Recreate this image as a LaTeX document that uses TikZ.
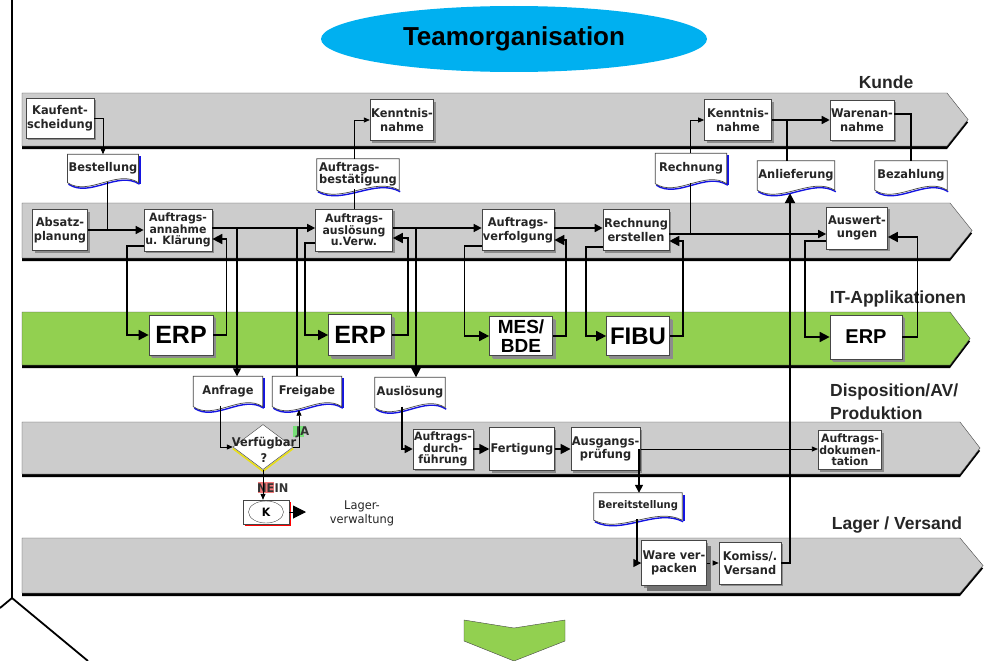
\documentclass[tikz,border=0pt]{standalone}
\usepackage{fontspec}
\setmainfont{Liberation Sans}
\newfontfamily\boxfont[FakeStretch=0.95]{DejaVu Sans}
\usepackage{tikz}
\usetikzlibrary{shapes.geometric,arrows.meta,positioning,backgrounds,calc,shadows}
\definecolor{laneGray}{RGB}{204,204,204}
\definecolor{laneGreen}{RGB}{146,208,80}
\definecolor{titleBlue}{RGB}{0,176,240}
\definecolor{docBlue}{RGB}{20,20,225}
\definecolor{lineGray}{RGB}{70,70,70}
\definecolor{jaGreen}{RGB}{120,225,120}
\definecolor{neinRed}{RGB}{240,120,120}

% swim lane with arrow point: top, bottom, corner x, tip x, fill
\newcommand{\lane}[5]{%
  \fill[black] (22,#1+3) -- (#3,#1+3) -- (#4,{(#1+#2)/2+3}) -- (#3,#2+3) -- (22,#2+3) -- cycle;
  \draw[lineGray, fill=#5] (22,#1) -- (#3,#1) -- (#4,{(#1+#2)/2}) -- (#3,#2) -- (22,#2) -- cycle;
}
% document outline with wavy bottom behind a node, [1] = blue right edge
\newcommand{\docshape}[2][0]{%
  \begin{pgfonlayer}{background}
    \draw[docBlue, line width=1.4pt]
      ($(#2.south west)+(1,2.5)$) .. controls ($(#2.south west)!0.3!(#2.south east)+(1,16.5)$)
      and ($(#2.south west)!0.7!(#2.south east)+(1,-11.5)$) .. ($(#2.south east)+(1,2.5)$);
    \ifnum#1=1
      \draw[docBlue, line width=2pt] ($(#2.north east)+(1.5,2)$) -- ($(#2.south east)+(1.5,2)$);
    \fi
    \draw[lineGray, fill=white, line width=0.7pt]
      (#2.north west) -- (#2.north east) -- ($(#2.south east)+(0,1)$)
      .. controls ($(#2.south west)!0.7!(#2.south east)+(0,-13)$)
      and ($(#2.south west)!0.3!(#2.south east)+(0,15)$) .. ($(#2.south west)+(0,1)$) -- cycle;
  \end{pgfonlayer}}

\begin{document}
\begin{tikzpicture}[x=1pt, y=-1pt,
  box/.style={draw=lineGray, fill=white, line width=0.7pt, inner sep=1pt, align=center, text=black!85,
    font=\boxfont\bfseries\fontsize{12}{13.5}\selectfont,
    drop shadow={shadow xshift=2pt, shadow yshift=-2pt, fill=black!45, opacity=1}},
  three/.style={font=\boxfont\bfseries\fontsize{11.5}{11.5}\selectfont},
  app/.style={box, font=\bfseries\fontsize{25}{28}\selectfont, text=black,
    drop shadow={shadow xshift=3pt, shadow yshift=-3pt, fill=black!45, opacity=1}},
  doc/.style={inner sep=1pt, align=center, text=black!85, font=\boxfont\bfseries\fontsize{12}{12.5}\selectfont},
  lanelabel/.style={inner sep=0pt, text=black!85, font=\bfseries\fontsize{17.5}{23}\selectfont},
  tag/.style={inner sep=0pt, anchor=west, text=black!80, font=\boxfont\bfseries\fontsize{12}{12}\selectfont},
  flow/.style={line width=1.5pt, -{Triangle[length=8pt,width=8pt]}},
  flowbig/.style={line width=1.7pt, -{Triangle[length=10pt,width=10pt]}},
  flowthin/.style={line width=0.8pt, -{Triangle[length=6pt,width=5pt]}},
  link/.style={line width=1.5pt},
  linkthin/.style={line width=0.8pt}
]
\useasboundingbox (0,0) rectangle (985,661);

% lanes
\begin{scope}[on background layer]
  \fill[white] (0,0) rectangle (985,661);
  \lane{93}{146}{947}{968}{laneGray}
  \lane{203}{258}{950}{972}{laneGray}
  \lane{312}{365}{950}{970}{laneGreen}
  \lane{422}{474}{960}{980}{laneGray}
  \lane{538}{593}{960}{983}{laneGray}
\end{scope}

\draw[line width=1.8pt] (12,0) -- (12,598) -- (88,661);
\draw[line width=1.8pt] (12,598) -- (0,608);
\draw[lineGray, fill=laneGreen] (464,620) -- (514,628) -- (565,620) -- (565,641) -- (514,661) -- (464,641) -- cycle;

\node[ellipse, fill=titleBlue, minimum width=386, minimum height=66, font=\bfseries\fontsize{26}{30}\selectfont] (title) at (514,39) {Teamorganisation};

\node[lanelabel] (kunde) at (886,82) {Kunde};
\node[lanelabel] (itapp) at (898,299) {IT-Applikationen};
\node[lanelabel, align=left, anchor=west] (dispo) at (830,402) {Disposition/AV/\\Produktion};
\node[lanelabel] (lager) at (897,525) {Lager / Versand};

% Kunde
\node[box, minimum width=67, minimum height=40] (kauf) at (60,118) {Kaufent-\\scheidung};
\node[box, minimum width=63, minimum height=41] (kennt1) at (402,120) {Kenntnis-\\nahme};
\node[box, minimum width=67, minimum height=41] (kennt2) at (738,120) {Kenntnis-\\nahme};
\node[box, minimum width=59, minimum height=40] (waren) at (862,120) {Warenan-\\nahme};

\node[doc, minimum width=70, minimum height=27] (best) at (103,168) {Bestellung};
\node[doc, minimum width=82, minimum height=30, align=left] (bestaet) at (358,174) {Auftrags-\\bestätigung};
\node[doc, minimum width=71, minimum height=29] (rechn) at (691,168) {Rechnung};
\node[doc, minimum width=77, minimum height=28] (anlief) at (796,175) {Anlieferung};
\node[doc, minimum width=72, minimum height=28] (bezahl) at (911,175) {Bezahlung};
\docshape[1]{best}
\docshape{bestaet}
\docshape[1]{rechn}
\docshape{anlief}
\docshape{bezahl}

% Auftragsabwicklung
\node[box, minimum width=55, minimum height=41] (absatz) at (60,230) {Absatz-\\planung};
\node[box, three, minimum width=68, minimum height=42] (annahme) at (178,230) {Auftrags-\\annahme\\u. Klärung};
\node[box, three, minimum width=77, minimum height=42] (ausloes) at (354,230) {Auftrags-\\auslösung\\u.Verw.};
\node[box, minimum width=69, minimum height=41] (verfolg) at (518,230) {Auftrags-\\verfolgung};
\node[box, minimum width=63, minimum height=41] (rerst) at (636,230) {Rechnung\\erstellen};
\node[box, minimum width=61, minimum height=42] (auswert) at (857,228) {Auswert-\\ungen};

% IT-Applikationen
\node[app, minimum width=64, minimum height=40] (erpA) at (181,335) {ERP};
\node[app, minimum width=63, minimum height=41] (erpB) at (360,335) {ERP};
\node[app, minimum width=63, minimum height=39, font=\bfseries\fontsize{19}{19}\selectfont] (mes) at (521,336) {MES/\\BDE};
\node[app, minimum width=63, minimum height=39, font=\bfseries\fontsize{24}{28}\selectfont] (fibu) at (638,336) {FIBU};
\node[app, minimum width=72, minimum height=44, font=\bfseries\fontsize{20}{24}\selectfont] (erpC) at (866,337) {ERP};

\node[doc, minimum width=69, minimum height=29] (anfrage) at (228,391) {Anfrage};
\node[doc, minimum width=69, minimum height=29] (freigabe) at (307,391) {Freigabe};
\node[doc, minimum width=70, minimum height=29] (ausl) at (410,392) {Auslösung};
\node[doc, minimum width=88, minimum height=26, font=\boxfont\bfseries\fontsize{10.5}{12}\selectfont] (bereit) at (638,506) {Bereitstellung};
\docshape[1]{anfrage}
\docshape[1]{freigabe}
\docshape{ausl}
\docshape[1]{bereit}

% Disposition / Produktion
\node[diamond, draw=lineGray, fill=white, minimum width=60, minimum height=45, inner sep=0pt] (verfueg) at (263,447) {};
\begin{pgfonlayer}{background}
  \draw[yellow!90!black, line width=1.6pt] ([yshift=-1.5pt]verfueg.west) -- ([yshift=-1.5pt]verfueg.south) -- ([yshift=-1.5pt]verfueg.east);
\end{pgfonlayer}
\node[align=center, text=black!85, font=\boxfont\bfseries\fontsize{12}{16}\selectfont] (verfTxt) at (264,450) {Verfügbar\\?};
\node[box, three, minimum width=55, minimum height=40] (durchf) at (443,449) {Auftrags-\\durch-\\führung};
\node[box, minimum width=63, minimum height=43, right=16pt of durchf] (fertig) {Fertigung};
\node[box, minimum width=62, minimum height=43, right=16pt of fertig] (ausgang) {Ausgangs-\\prüfung};
\node[box, three, minimum width=61, minimum height=39] (doku) at (850,450) {Auftrags-\\dokumen-\\tation};

\node[fill=jaGreen, minimum width=11, minimum height=11, inner sep=0pt] (jaMark) at (298,431) {};
\node[tag] (ja) at (296,432) {JA};
\node[fill=neinRed, minimum width=16, minimum height=11, inner sep=0pt] (neinMark) at (266,487) {};
\node[tag] (nein) at (257,488) {NEIN};

\node[draw=lineGray, fill=white, minimum width=46, minimum height=24, inner sep=0pt,
  drop shadow={shadow xshift=1.5pt, shadow yshift=-1.5pt, fill=red, opacity=1}] (kbox) at (266,512) {};
\node[draw=lineGray, ellipse, minimum width=35, minimum height=22, inner sep=0pt,
  font=\boxfont\bfseries\fontsize{11.5}{12}\selectfont] (kcirc) at (266,512) {K};
\coordinate (kout) at (306,512);
\node[align=center, text=black!85, font=\boxfont\fontsize{12}{14}\selectfont] (lagerv) at (362,513) {Lager-\\verwaltung};

% Lager / Versand
\node[box, minimum width=61, minimum height=45,
  drop shadow={shadow xshift=5pt, shadow yshift=-5pt, fill=black!55, opacity=1}] (verpack) at (674,563) {Ware ver-\\packen};
\node[box, minimum width=62, minimum height=42, right=12pt of verpack] (versand) {Komiss/.\\Versand};

% branch points
\coordinate (jBest) at (107,230);
\coordinate (jAnf) at (237,228);
\coordinate (jFrg) at (297,228);
\coordinate (jAus) at (416,228);
\coordinate (jRech) at (690,234);
\coordinate (jLief) at (787,120);
\coordinate (jBer) at (639,449);

% connectors
\draw[flowthin] (kauf.east) -| (best.north);
\draw[linkthin] (jBest |- best.south) -- (jBest);
\draw[flow] (absatz.east) -- (annahme.west);
\draw[flow] ([yshift=2pt]annahme.east) -- ([yshift=2pt]ausloes.west);
\draw[flow] (jAnf) -- (jAnf |- anfrage.north);
\draw[link] (jFrg |- freigabe.north) -- (jFrg);
\draw[flowbig] ([yshift=-16pt]annahme.west) -- ++(-17,0) |- (erpA.west);
\draw[flowbig] (erpA.east) -- ++(13,0) |- ([yshift=-9pt]annahme.east);
\draw[flowbig] ([yshift=-13pt]ausloes.west) -- ++(-10,0) |- (erpB.west);
\draw[flowbig] (erpB.east) -- ++(16,0) |- ([yshift=-8pt]ausloes.east);
\draw[linkthin] (ausloes.north) -- (ausloes.north |- bestaet.south);
\draw[flowthin] (ausloes.north |- bestaet.north) |- (kennt1.west);
\draw[flow] ([yshift=2pt]ausloes.east) -- ([yshift=2pt]verfolg.west);
\draw[flowbig] (jAus) -- (jAus |- ausl.north);
\draw[flowbig] ([yshift=-16pt]verfolg.west) -- ++(-17,0) |- (mes.west);
\draw[flowbig] (mes.east) -- ++(13,0) |- ([yshift=-10pt]verfolg.east);
\draw[flow] ([yshift=2pt]verfolg.east) -- ([yshift=2pt]rerst.west);
\draw[flowbig] ([yshift=-17pt]rerst.west) -- ++(-17,0) |- (fibu.west);
\draw[flowbig] (fibu.east) -- ++(13,0) |- ([yshift=-11pt]rerst.east);
\draw[flow] ([yshift=-4pt]rerst.east) -- (jRech -| auswert.west);
\draw[linkthin] (jRech) -- (jRech |- rechn.south);
\draw[flowthin] (jRech |- rechn.north) |- (kennt2.west);
\draw[flowbig] ([yshift=-13pt]auswert.west) -- ++(-21,0) |- (erpC.west);
\draw[flowbig] (erpC.east) -- ++(15,0) |- ([yshift=-9pt]auswert.east);
\draw[flow] (kennt2.east) -- (waren.west);
\draw[link] (jLief |- anlief.north) -- (jLief);
\draw[link] ([yshift=6pt]waren.east) -| (bezahl.north);
\draw[flowbig, line width=2pt] (versand.east) -| ([xshift=-6pt,yshift=-4pt]anlief.south);

\draw[flowthin, line width=1pt] ([xshift=-8pt]anfrage.south) |- (verfueg.west);
\draw[flowthin] (verfueg.east) -| ([xshift=-8pt,yshift=-4pt]freigabe.south);
\draw[flowthin] (verfueg.south) -- (verfueg.south |- kbox.north);
\draw[-{Triangle[length=13pt,width=13pt]}, line width=1pt] (kbox.east) -- (kout);
\draw[flow] ([xshift=-8pt]ausl.south) |- (durchf.west);
\draw[flowbig] (durchf.east) -- (fertig.west);
\draw[flowbig] (fertig.east) -- (ausgang.west);
\draw[flowthin] (ausgang.east) -- (ausgang.east -| doku.west);
\draw[flow] (jBer) -- (jBer |- bereit.north);
\draw[flow] ([xshift=-1pt]bereit.south) |- (verpack.west);
\draw[flowthin, dashed] (verpack.east) -- (versand.west);
\end{tikzpicture}
\end{document}
